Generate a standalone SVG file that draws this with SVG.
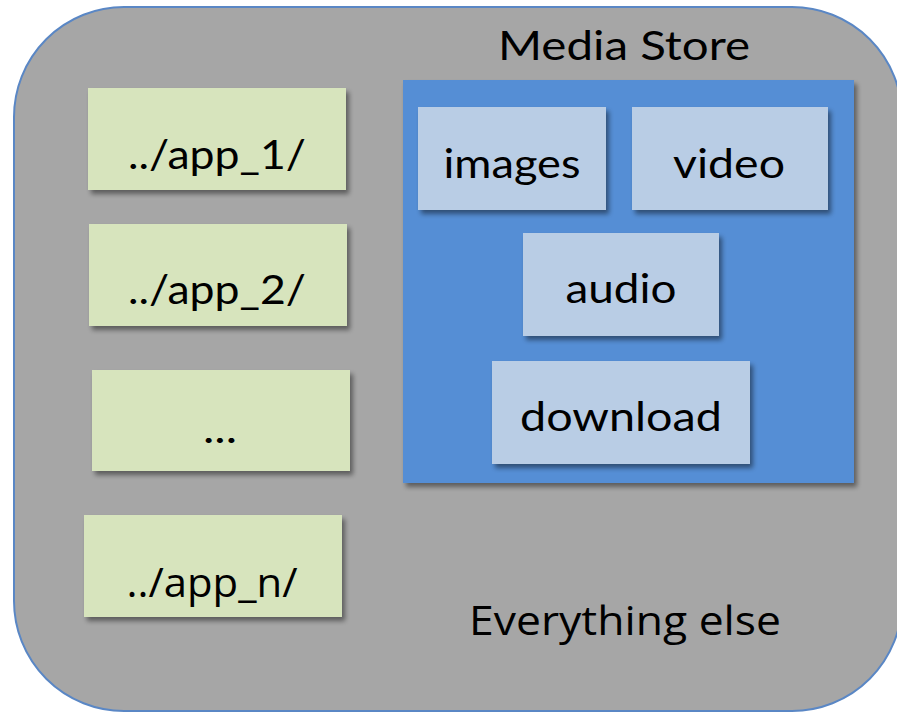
<svg xmlns="http://www.w3.org/2000/svg" width="897" height="713" viewBox="0 0 897 713">
<defs>
<filter id="sh" x="-10%" y="-10%" width="130%" height="130%">
<feGaussianBlur in="SourceAlpha" stdDeviation="2.5"/>
<feOffset dx="3" dy="4" result="b"/>
<feComponentTransfer><feFuncA type="linear" slope="0.45"/></feComponentTransfer>
<feMerge><feMergeNode/><feMergeNode in="SourceGraphic"/></feMerge>
</filter>
</defs>
<style>
.g{fill:#D7E4BD;filter:url(#sh)}
.lb{fill:#B9CDE5;filter:url(#sh)}
.t{font-family:Lato,"Open Sans","Liberation Sans",sans-serif;font-size:40px;fill:#000;text-anchor:middle}
.c{font-family:"Liberation Sans Narrow","Open Sans","Liberation Sans",sans-serif;font-size:40px;fill:#000;text-anchor:middle}
</style>
<rect width="897" height="713" fill="#FFFFFF"/>
<g id="everything-else">
<rect x="14" y="7" width="888" height="704" rx="110" ry="110" fill="#A6A6A6" stroke="#5A87C5" stroke-width="2"/>
<text class="c" x="625" y="635" textLength="312" lengthAdjust="spacingAndGlyphs">Everything else</text>
</g>
<g id="app1">
<rect class="g" x="88" y="88" width="258" height="102"/>
<text class="t" x="217" y="169" textLength="178" lengthAdjust="spacingAndGlyphs">../app_1/</text>
</g>
<g id="app2">
<rect class="g" x="89" y="224" width="258" height="102"/>
<text class="t" x="217" y="304" textLength="178" lengthAdjust="spacingAndGlyphs">../app_2/</text>
</g>
<g id="ellipsis">
<rect class="g" x="92" y="370" width="258" height="101"/>
<text class="t" x="220" y="443" textLength="34" lengthAdjust="spacingAndGlyphs">...</text>
</g>
<g id="appn">
<rect class="g" x="84" y="515" width="258" height="102"/>
<text class="c" x="212" y="597" textLength="171" lengthAdjust="spacingAndGlyphs">../app_n/</text>
</g>
<g id="media-store">
<text class="t" x="624" y="60" textLength="252" lengthAdjust="spacingAndGlyphs">Media Store</text>
<rect x="403" y="80" width="451" height="403" fill="#558ED5" filter="url(#sh)"/>
</g>
<g id="images">
<rect class="lb" x="418" y="107" width="188" height="103"/>
<text class="t" x="512" y="178" textLength="137" lengthAdjust="spacingAndGlyphs">images</text>
</g>
<g id="video">
<rect class="lb" x="632" y="107" width="196" height="103"/>
<text class="t" x="729" y="178" textLength="112" lengthAdjust="spacingAndGlyphs">video</text>
</g>
<g id="audio">
<rect class="lb" x="523" y="233" width="196" height="103"/>
<text class="t" x="621" y="303" textLength="111" lengthAdjust="spacingAndGlyphs">audio</text>
</g>
<g id="download">
<rect class="lb" x="492" y="361" width="258" height="103"/>
<text class="t" x="621" y="431" textLength="202" lengthAdjust="spacingAndGlyphs">download</text>
</g>
<g id="connectors"/>
</svg>
